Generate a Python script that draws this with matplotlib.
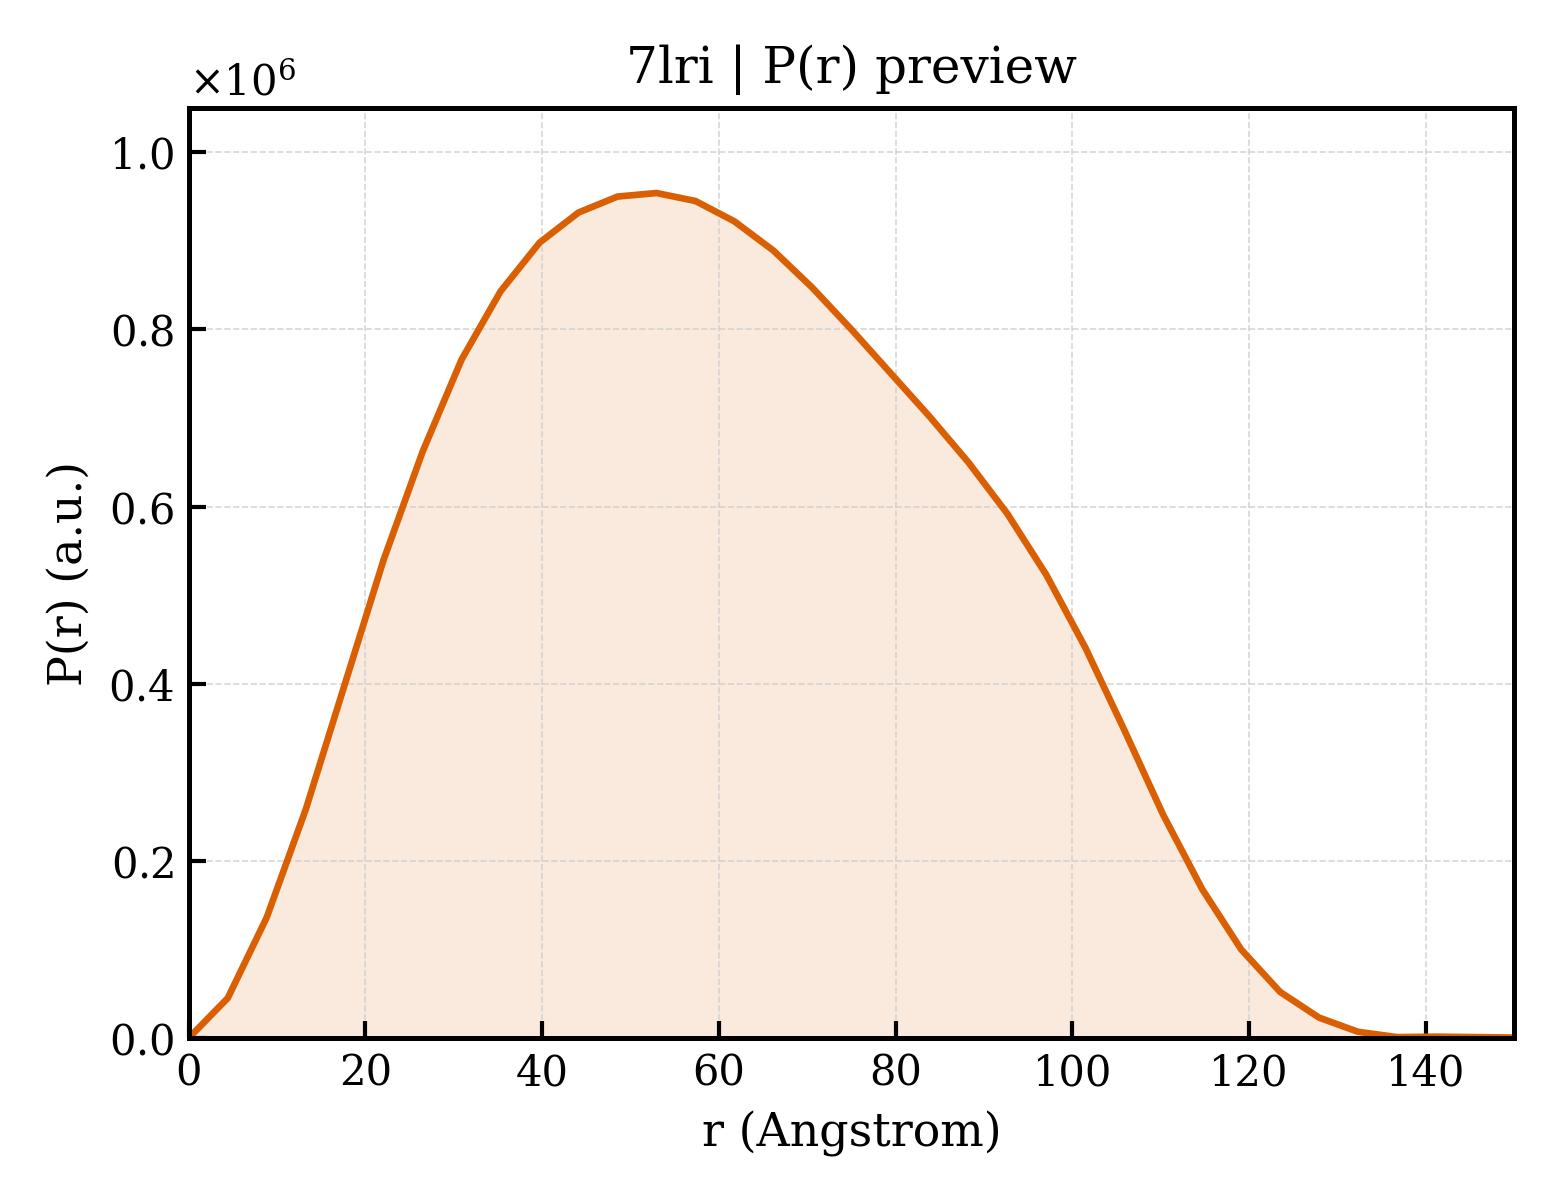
import matplotlib.pyplot as plt
import matplotlib.ticker as mticker

r = [0.0, 4.41, 8.82, 13.24, 17.65, 22.06, 26.47, 30.88, 35.29, 39.71,
     44.12, 48.53, 52.94, 57.35, 61.76, 66.18, 70.59, 75.0, 79.41, 83.82,
     88.24, 92.65, 97.06, 101.47, 105.88, 110.29, 114.71, 119.12, 123.53,
     127.94, 132.35, 136.76, 141.18, 145.59, 150.0]
pr = [0.0, 0.045, 0.136, 0.258, 0.399, 0.540, 0.662, 0.766, 0.843, 0.898,
      0.932, 0.950, 0.954, 0.945, 0.922, 0.889, 0.847, 0.800, 0.751, 0.702,
      0.650, 0.592, 0.523, 0.441, 0.348, 0.252, 0.168, 0.100, 0.052,
      0.023, 0.007, 0.001, 0.0015, 0.001, 0.0005]
pr = [v * 1e6 for v in pr]

plt.rcParams['font.family'] = 'DejaVu Serif'
plt.rcParams['mathtext.fontset'] = 'dejavuserif'

fig = plt.figure(figsize=(5.2, 4), dpi=300)
ax = fig.add_axes([0.121, 0.135, 0.8495, 0.775])

ax.fill_between(r, pr, 0, color='#D95F02', alpha=0.13, linewidth=0)
ax.plot(r, pr, color='#D95F02', linewidth=1.6)

ax.set_xlim(0, 150)
ax.set_ylim(0, 1.05e6)
ax.set_xticks([0, 20, 40, 60, 80, 100, 120, 140])
ax.set_yticks([0, 0.2e6, 0.4e6, 0.6e6, 0.8e6, 1.0e6])

fmt = mticker.ScalarFormatter(useMathText=True)
fmt.set_powerlimits((0, 0))
ax.yaxis.set_major_formatter(fmt)
ax.yaxis.get_offset_text().set_fontsize(10)

ax.tick_params(direction='in', labelsize=10, width=1.0, length=4)
for s in ax.spines.values():
    s.set_linewidth(1.2)
ax.grid(True, linestyle='--', linewidth=0.4, color='#cccccc', alpha=0.8)

ax.set_xlabel('r (Angstrom)', fontsize=11)
ax.set_ylabel('P(r) (a.u.)', fontsize=11)
ax.set_title('7lri | P(r) preview', fontsize=12)

fig.savefig('out.png', dpi=300)
